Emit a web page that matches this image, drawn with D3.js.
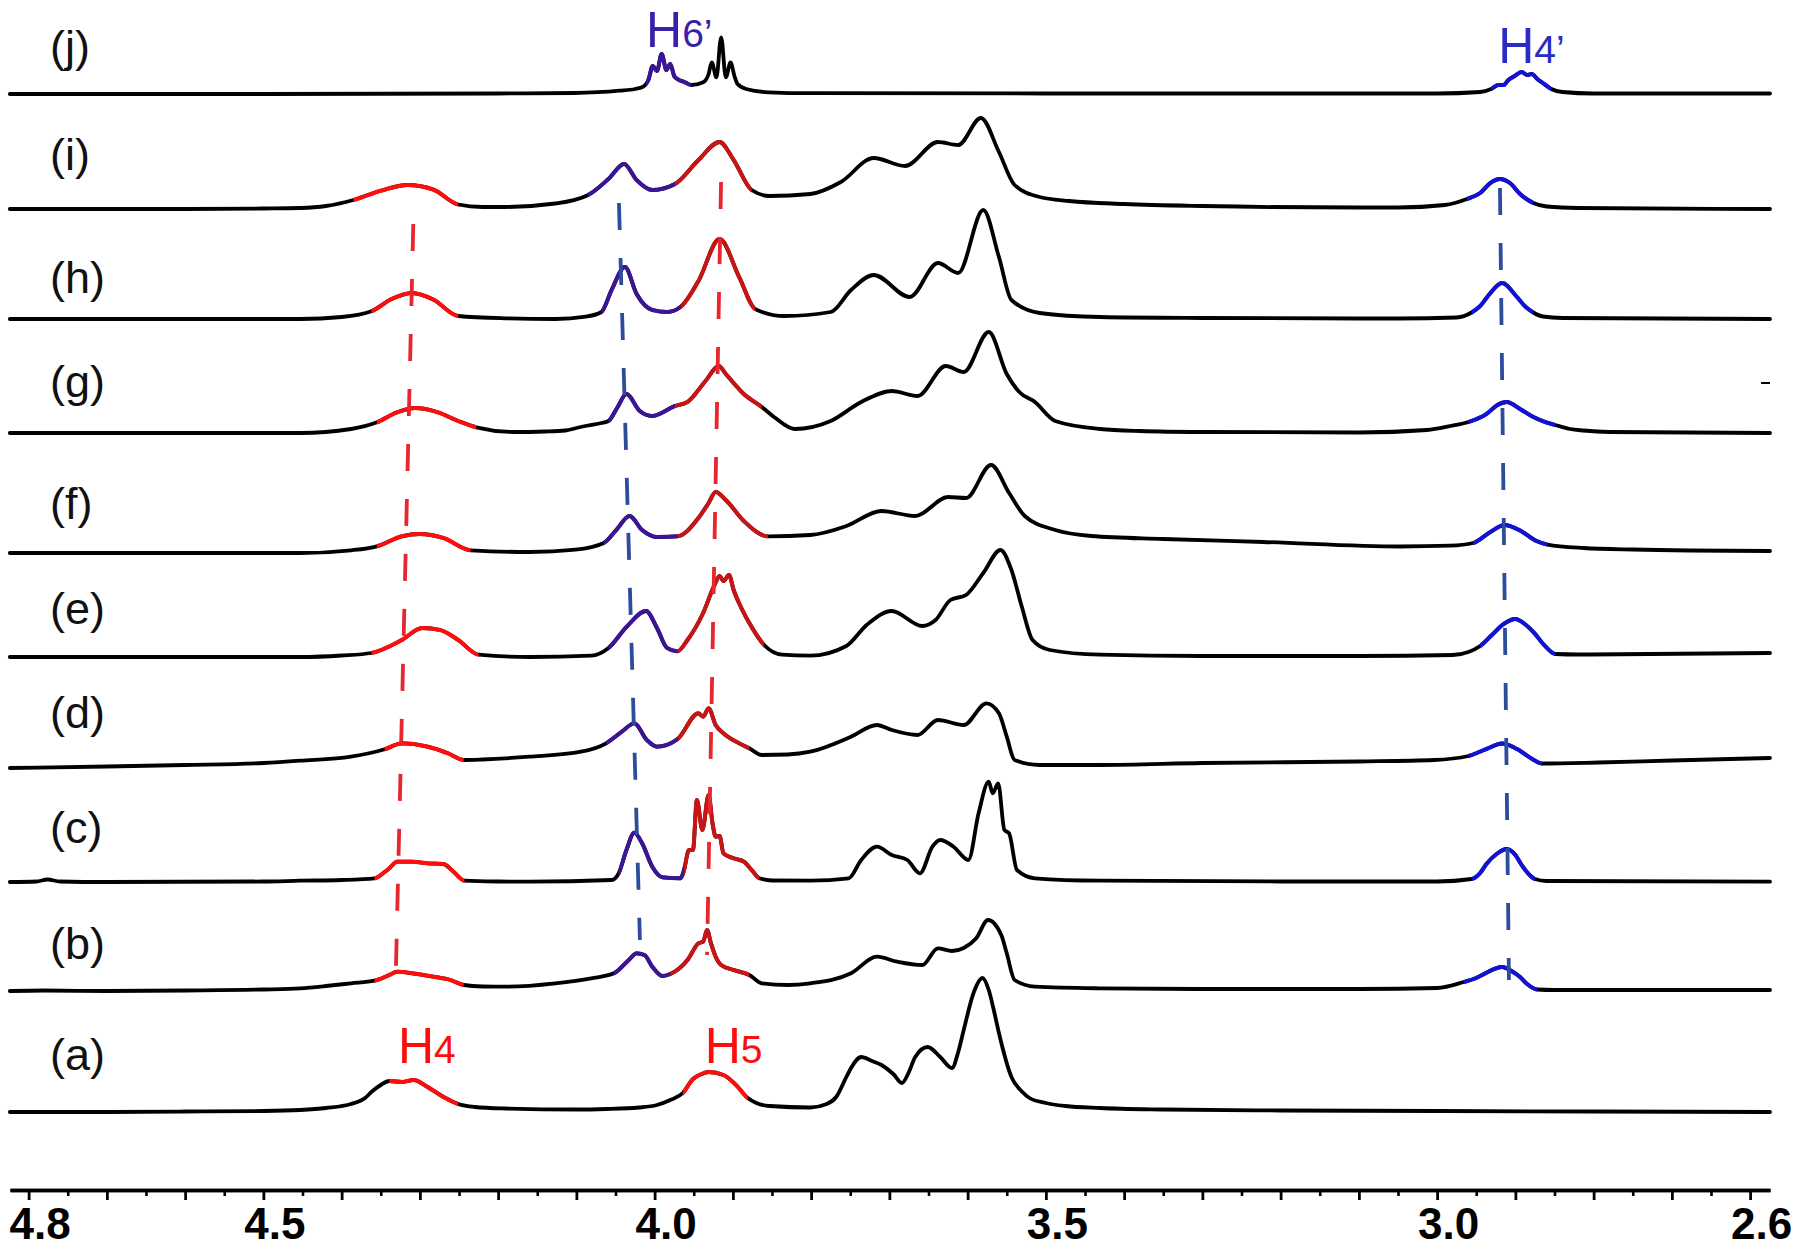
<!DOCTYPE html>
<html><head><meta charset="utf-8">
<script src="https://cdn.jsdelivr.net/npm/d3@7"></script>
<style>body{margin:0;background:#fff} svg{display:block;background:#fff}</style>
</head><body>
<svg id="chart" width="1800" height="1251"></svg>
<script>
// ---------- DATA ----------
const spectrumNames = ["(a)","(b)","(c)","(d)","(e)","(f)","(g)","(h)","(i)","(j)"];
// stacking offsets (intensity units above the axis line)
const spectrumOffsets = [78, 199, 308, 422, 533, 637, 757, 871, 981, 1096];
// label height above each baseline
const labelLift = [58, 48, 55, 56, 49, 50, 52, 42, 55, 48];

// [ppm, intensity]
const specA = [[4.824,0],[4.70,0],[4.60,0.5],[4.50,1],[4.453,2],[4.42,4],[4.388,8],[4.37,14],[4.362,20],[4.35,27],[4.339,31],[4.323,30],[4.308,32],[4.29,25],[4.274,17],[4.26,11],[4.251,8],[4.23,5],[4.192,3.5],[4.10,2.5],[4.062,3],[4.02,4.5],[3.997,7],[3.98,12],[3.964,19],[3.951,33],[3.94,38],[3.931,40],[3.912,37],[3.896,27],[3.881,14],[3.87,9],[3.853,6],[3.801,4.5],[3.78,8],[3.768,15],[3.755,35],[3.749,44],[3.736,55],[3.722,51],[3.710,47],[3.695,38],[3.684,29],[3.675,40],[3.667,55],[3.651,65],[3.635,55],[3.620,44],[3.612,60],[3.605,82],[3.592,120],[3.581,134],[3.573,122],[3.566,100],[3.560,79],[3.544,35],[3.530,20],[3.521,14],[3.50,9],[3.475,6],[3.431,4],[3.35,2.5],[3.2,1.5],[3.0,1],[2.8,0.5],[2.5746,0]];
const specB = [[4.824,0],[4.78,0.5],[4.70,0],[4.60,0.5],[4.50,1.5],[4.453,2.7],[4.42,5],[4.388,7.7],[4.358,10.3],[4.339,16],[4.329,19.3],[4.31,17.7],[4.283,14.3],[4.261,11],[4.244,6],[4.22,4.5],[4.192,4.3],[4.127,7.7],[4.081,12.7],[4.052,17.7],[4.033,31],[4.023,37.7],[4.013,36],[4.003,24.3],[3.990,15],[3.980,17],[3.958,31],[3.944,47.7],[3.938,49.3],[3.933,61],[3.928,47.7],[3.922,34.3],[3.915,26],[3.899,21],[3.879,16],[3.863,7.7],[3.83,6],[3.801,7.7],[3.749,17.7],[3.716,34.3],[3.690,29.3],[3.658,26],[3.638,42.7],[3.620,40],[3.605,43],[3.589,52.7],[3.574,71],[3.557,56],[3.550,37.7],[3.540,11],[3.514,4.3],[3.431,2.7],[3.3,2],[3.1,2],[3.0,3],[2.966,9],[2.950,13],[2.940,17],[2.917,24],[2.905,20],[2.894,14],[2.885,7],[2.872,1.5],[2.85,1],[2.5746,1]];
const specC = [[4.824,0],[4.79,0.5],[4.776,2.5],[4.76,0.5],[4.70,0],[4.50,0.5],[4.453,1.3],[4.40,2],[4.358,3.7],[4.345,10],[4.339,13.7],[4.329,20.3],[4.31,20.3],[4.29,18.7],[4.27,18],[4.257,10.3],[4.243,1.3],[4.2,0.5],[4.160,0.3],[4.055,2],[4.046,8.7],[4.036,32],[4.026,49.3],[4.016,38.7],[4.003,15.3],[3.990,4.7],[3.967,3.7],[3.963,10.3],[3.956,32],[3.951,32],[3.946,82],[3.939,52],[3.931,87],[3.926,58.7],[3.922,45.3],[3.917,46],[3.912,28.7],[3.899,23.7],[3.886,20.3],[3.876,12],[3.866,3.7],[3.85,1.5],[3.801,1.3],[3.752,3.7],[3.736,22],[3.716,35.3],[3.697,27],[3.677,22],[3.661,8.7],[3.645,35.3],[3.635,42],[3.618,35.3],[3.599,22],[3.586,68.7],[3.573,100.3],[3.568,88.7],[3.561,98.7],[3.553,52],[3.547,48.7],[3.537,12],[3.514,3.7],[3.431,1.3],[3.2,0.5],[3.0,0.5],[2.956,3],[2.945,9],[2.937,18],[2.924,28],[2.911,33],[2.900,27],[2.892,17],[2.883,8],[2.875,3],[2.86,1],[2.5746,0.3]];
const specD = [[4.824,0],[4.70,1.5],[4.60,3],[4.50,5],[4.453,7.3],[4.388,11.3],[4.345,18.7],[4.323,24.7],[4.29,21.3],[4.264,14.7],[4.244,8],[4.22,8.5],[4.160,11.3],[4.094,16.3],[4.062,24.7],[4.042,36.3],[4.026,44.7],[4.010,28],[3.997,21.3],[3.971,28.7],[3.944,54.7],[3.938,51.3],[3.931,59.7],[3.922,43],[3.912,34.7],[3.892,24.7],[3.879,19.7],[3.863,13],[3.83,13.5],[3.801,16.3],[3.749,31.3],[3.716,43],[3.697,38],[3.664,33],[3.638,48],[3.605,43],[3.576,64.7],[3.560,54.7],[3.550,31.3],[3.540,8],[3.508,3],[3.431,3],[3.3,5],[3.1,6.5],[3.004,8],[2.960,12],[2.937,19],[2.917,24.5],[2.898,19],[2.877,8.3],[2.866,4.5],[2.794,5.5],[2.7,7.5],[2.5746,10]];
const specE = [[4.824,0],[4.60,0],[4.453,0],[4.40,1.5],[4.362,4],[4.323,17],[4.297,29],[4.274,27],[4.251,17],[4.225,2.3],[4.16,0],[4.081,1.3],[4.059,9],[4.036,30],[4.011,46],[3.997,29],[3.984,9],[3.971,5.7],[3.958,17],[3.938,44],[3.924,71],[3.917,81],[3.912,76],[3.905,82],[3.899,67],[3.891,52],[3.879,34],[3.860,12],[3.837,2.3],[3.801,1.3],[3.755,11],[3.729,32],[3.697,46],[3.658,31],[3.641,37],[3.622,57],[3.602,62],[3.580,84],[3.558,107],[3.544,87],[3.531,51],[3.517,17],[3.495,7],[3.431,2.3],[3.3,1],[3.1,1],[2.98,2],[2.96,5],[2.945,11],[2.93,22],[2.915,33],[2.900,38],[2.888,33],[2.877,25],[2.862,11],[2.849,3],[2.82,2.5],[2.5746,4]];
const specF = [[4.824,0],[4.60,0],[4.453,0],[4.388,2.7],[4.355,6.7],[4.323,16.7],[4.300,19],[4.270,15],[4.235,2.7],[4.16,1],[4.101,3.3],[4.065,10],[4.049,23],[4.032,37],[4.016,23],[3.997,16],[3.971,16.7],[3.944,35],[3.931,50],[3.922,61],[3.909,53],[3.886,32],[3.855,16.7],[3.801,18],[3.755,27],[3.710,42],[3.667,37],[3.625,56],[3.602,55],[3.570,88],[3.547,60],[3.527,37],[3.488,23],[3.442,17],[3.35,14],[3.222,11],[3.047,6.5],[2.983,7.3],[2.954,10],[2.932,21],[2.914,28],[2.894,22.5],[2.873,12],[2.859,8.4],[2.813,5],[2.75,3.5],[2.5746,2]];
const specG = [[4.824,0],[4.60,0],[4.453,0],[4.388,4],[4.355,10.7],[4.329,20.7],[4.306,25],[4.277,20.7],[4.251,12],[4.228,5.7],[4.179,1],[4.14,1.5],[4.114,2.5],[4.10,5],[4.085,7.5],[4.068,10],[4.059,12],[4.048,25],[4.036,39],[4.019,22],[4.003,17],[3.974,27],[3.958,31],[3.935,52],[3.918,67],[3.909,59],[3.886,39],[3.863,26],[3.847,15.7],[3.821,4],[3.775,12],[3.736,31],[3.697,42],[3.664,37],[3.628,67],[3.605,61],[3.573,101],[3.550,59],[3.534,41],[3.514,31],[3.488,12],[3.431,4],[3.38,2],[3.3,1],[3.1,0.5],[3.013,3],[2.983,7],[2.96,11],[2.937,19],[2.923,28],[2.911,31],[2.894,24],[2.877,16],[2.862,11],[2.849,8],[2.83,4],[2.813,2.5],[2.78,1],[2.5746,0]];
const specH = [[4.824,0],[4.60,0],[4.453,0],[4.40,2],[4.362,7.7],[4.336,20],[4.310,26],[4.283,19.5],[4.251,3],[4.192,0.7],[4.127,0],[4.088,2.3],[4.068,7],[4.055,29],[4.038,52],[4.023,25],[4.003,9],[3.984,7],[3.967,12],[3.944,38],[3.917,80],[3.892,42],[3.871,9.7],[3.834,3],[3.775,7],[3.749,29],[3.720,44],[3.674,22],[3.638,56],[3.612,46],[3.580,109],[3.560,62],[3.544,19],[3.508,6],[3.431,2],[3.3,1],[3.1,0.5],[3.05,0.5],[2.975,1.5],[2.956,6.5],[2.945,13],[2.934,24],[2.917,36],[2.898,22],[2.888,13],[2.877,6.5],[2.865,2.5],[2.84,1],[2.5746,0]];
const specI = [[4.824,0],[4.60,0],[4.50,0.5],[4.453,1],[4.42,3],[4.385,9],[4.349,18.5],[4.316,24],[4.283,19.5],[4.251,4.5],[4.22,2],[4.192,2],[4.127,5.5],[4.085,14],[4.059,30],[4.039,45],[4.023,29],[4.003,19],[3.974,25],[3.944,49],[3.917,67],[3.899,49],[3.876,19],[3.853,13],[3.801,15],[3.762,27],[3.720,51],[3.680,43],[3.638,67],[3.612,64],[3.583,91],[3.560,57],[3.540,24],[3.508,12],[3.47,8],[3.40,5],[3.30,3],[3.10,1.5],[3.05,1.5],[2.99,4],[2.962,10],[2.945,16],[2.932,26],[2.920,30],[2.907,26],[2.894,15],[2.877,6],[2.86,2.5],[2.82,1],[2.5746,0]];
const specJ = [[4.824,0],[4.5,0],[4.2,0.5],[4.103,1],[4.045,3.3],[4.025,5],[4.014,7.7],[4.008,14],[4.0024,28],[3.997,23],[3.991,40],[3.985,24],[3.980,30],[3.975,18],[3.971,15],[3.962,12],[3.953,9],[3.938,11.7],[3.931,20],[3.927,31.7],[3.921,16.7],[3.915,56.7],[3.909,16.7],[3.903,31.7],[3.898,18],[3.894,10],[3.883,5],[3.854,1.7],[3.8,0.8],[3.5,0.5],[3.0,0.5],[2.945,2],[2.931,5],[2.922,9],[2.915,9],[2.909,14],[2.901,18],[2.892,22],[2.885,19],[2.879,20],[2.872,15],[2.865,11],[2.858,7],[2.854,5],[2.84,2],[2.80,0.5],[2.5746,0.5]];

// coloured assignments: [ppmStart, ppmEnd, kind]
const rangesA = [[4.339,4.251,"H4"],[3.964,3.881,"H4"]];
const rangesB = [[4.358,4.244,"H4"],[4.052,3.980,"H6"],[3.980,3.879,"H5"],[2.966,2.872,"H4p"]];
const rangesC = [[4.358,4.243,"H4"],[4.046,3.963,"H6"],[3.963,3.866,"H5"],[2.956,2.875,"H4p"]];
const rangesD = [[4.345,4.244,"H4"],[4.062,3.971,"H6"],[3.971,3.879,"H5"],[2.960,2.866,"H4p"]];
const rangesE = [[4.362,4.225,"H4"],[4.059,3.971,"H6"],[3.971,3.860,"H5"],[2.945,2.849,"H4p"]];
const rangesF = [[4.355,4.235,"H4"],[4.065,3.971,"H6"],[3.971,3.855,"H5"],[2.954,2.859,"H4p"]];
const rangesG = [[4.355,4.228,"H4"],[4.059,3.974,"H6"],[3.974,3.863,"H5"],[2.960,2.849,"H4p"]];
const rangesH = [[4.362,4.251,"H4"],[4.068,3.967,"H6"],[3.967,3.871,"H5"],[2.956,2.877,"H4p"]];
const rangesI = [[4.385,4.251,"H4"],[4.085,3.974,"H6"],[3.974,3.876,"H5"],[2.962,2.877,"H4p"]];
const rangesJ = [[4.011,3.953,"H6"],[2.931,2.854,"H4p"]];

// dashed guides: [ppmTop, levelTop, ppmBottom, levelBottom, kind]
const guides = [[4.3084,966,4.3307,218,"red"],[4.0456,987,4.0188,250,"blue"],[3.9151,1008,3.9330,235,"red"],[2.9197,1002,2.9082,210,"blue"]];

// peak-assignment labels: [main, sub, ppm, level, kind]
const peakLabels = [["H","4",4.328,127,"H4"],["H","5",3.936,127,"H4"],["H","6\u2019",4.011,1143,"H6lab"],["H","4\u2019",2.922,1127,"H4plab"]];

// axis
const majorTicks = [4.8,4.7,4.6,4.5,4.4,4.3,4.2,4.1,4.0,3.9,3.8,3.7,3.6,3.5,3.4,3.3,3.2,3.1,3.0,2.9,2.8,2.7,2.6];
const minorTicks = [4.75,4.65,4.55,4.45,4.35,4.25,4.15,4.05,3.95,3.85,3.75,3.65,3.55,3.45,3.35,3.25,3.15,3.05,2.95,2.85,2.75,2.65];
const tickLabels = [4.8,4.5,4.0,3.5,3.0,2.6];

// ---------- STYLE ----------
const colors = {H4:"#ff0d0d", H5:"#c81414", H6:"#3c1496", H4p:"#1212d6", red:"#e8262e", blue:"#2c4c9c", H6lab:"#3a20a8", H4plab:"#2a2ac4"};
const allSpectra = [specA,specB,specC,specD,specE,specF,specG,specH,specI,specJ];
const allRanges = [rangesA,rangesB,rangesC,rangesD,rangesE,rangesF,rangesG,rangesH,rangesI,rangesJ];

const svg = d3.select("#chart");
const x = d3.scaleLinear().domain([4.8238, 2.5746]).range([10, 1770]);
const y = d3.scaleLinear().domain([0, 1190]).range([1190, 0]);
const FONT = "'Liberation Sans', Arial, Helvetica, sans-serif";

const defs = svg.append("defs");
const gSpec = svg.append("g").attr("fill","none").attr("stroke-linejoin","round").attr("stroke-linecap","round");

allSpectra.forEach((pts, si) => {
  const off = spectrumOffsets[si];
  const line = d3.line().x(d => x(d[0])).y(d => y(off + d[1])).curve(d3.curveMonotoneX);
  const dStr = line(pts);
  gSpec.append("path").attr("d", dStr).attr("stroke","#000").attr("stroke-width",3.8);
  allRanges[si].forEach((r, ri) => {
    const id = `clip-${si}-${ri}`;
    const x0 = x(r[0]), x1 = x(r[1]);
    defs.append("clipPath").attr("id", id).append("rect")
      .attr("x", Math.min(x0,x1)).attr("y", 0).attr("width", Math.abs(x1-x0)).attr("height", 1251);
    gSpec.append("path").attr("d", dStr).attr("stroke", colors[r[2]]).attr("stroke-width",4.0)
      .attr("stroke-linecap","butt").attr("clip-path", `url(#${id})`);
  });
});

// small artifact dash on right of (g)
svg.append("line").attr("x1", x(2.586)).attr("x2", x(2.5746)).attr("y1", y(807)).attr("y2", y(807))
  .attr("stroke","#000").attr("stroke-width",2);

// dashed guides
svg.append("g").selectAll("line").data(guides).join("line")
  .attr("x1", d => x(d[0])).attr("y1", d => y(d[1]))
  .attr("x2", d => x(d[2])).attr("y2", d => y(d[3]))
  .attr("stroke", d => colors[d[4]]).attr("stroke-width", 3.8)
  .attr("stroke-dasharray", "27,28");

// spectrum labels
svg.append("g").selectAll("text").data(spectrumNames).join("text")
  .attr("x", x(4.7727)).attr("y", (d,i) => y(spectrumOffsets[i] + labelLift[i]))
  .attr("dominant-baseline","central")
  .attr("font-family", FONT).attr("font-size", 45).attr("fill","#111")
  .text(d => d);

// peak labels
const pl = svg.append("g").selectAll("text").data(peakLabels).join("text")
  .attr("x", d => x(d[2])).attr("y", d => y(d[3]))
  .attr("font-family", FONT).attr("fill", d => colors[d[4]]);
pl.append("tspan").attr("font-size", 50).text(d => d[0]);
pl.append("tspan").attr("font-size", 39).text(d => d[1]);

// axis
const axisG = svg.append("g").attr("transform", `translate(0,${y(0)})`);
axisG.call(d3.axisBottom(x).tickValues(minorTicks).tickSize(6).tickSizeOuter(0).tickFormat(""));
axisG.selectAll(".tick line").attr("stroke-width", 2.6);
const axisM = svg.append("g").attr("transform", `translate(0,${y(0)})`);
axisM.call(d3.axisBottom(x).tickValues(majorTicks).tickSize(10).tickPadding(8).tickSizeOuter(0)
  .tickFormat(d => tickLabels.includes(d) ? d.toFixed(1) : ""));
axisM.selectAll(".tick line").attr("stroke-width", 2.8);
axisM.selectAll(".domain").attr("stroke-width", 3.4);
axisG.selectAll(".domain").attr("stroke-width", 3.4);
axisM.selectAll(".tick text").attr("x", 11)
  .attr("font-family", FONT).attr("font-weight","bold").attr("font-size", 44).attr("fill","#000");
</script>
</body></html>
